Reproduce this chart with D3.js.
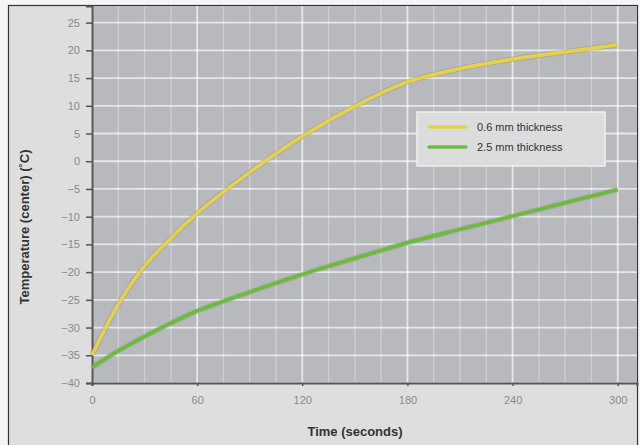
<!DOCTYPE html>
<html>
<head>
<meta charset="utf-8">
<script src="https://cdn.jsdelivr.net/npm/d3@7"></script>
<style>
  body { margin: 0; background: #f5f5f5; }
  svg { display: block; }
</style>
</head>
<body>
<div id="chart"></div>
<script>
// seconds
const times = [0, 15, 30, 45, 60, 90, 120, 150, 180, 210, 240, 270, 300];
// center temperature, 0.6 mm and 2.5 mm sheets
const thin = [-35, -25.8, -18.9, -13.9, -9.4, -2.0, 4.5, 9.9, 14.3, 16.7, 18.4, 19.7, 21.0];
const thick = [-37.2, -34.2, -31.6, -29.2, -27.0, -23.6, -20.4, -17.5, -14.7, -12.3, -9.9, -7.5, -5.1];
const series = [
    {name: "0.6 mm thickness", values: thin, color: "#e6d24a"},
    {name: "2.5 mm thickness", values: thick, color: "#6abd3c"}
];
const xTicks = [0, 60, 120, 180, 240, 300];
const yTicks = [-40, -35, -30, -25, -20, -15, -10, -5, 0, 5, 10, 15, 20, 25];

const width = 640, height = 445;
const margin = {top: 6, right: 3, bottom: 62, left: 92};

const svg = d3.select("#chart").append("svg")
    .attr("width", width)
    .attr("height", height);

// outer panel
svg.append("rect")
    .attr("x", 8.5).attr("y", 5.5)
    .attr("width", 629).attr("height", 450)
    .attr("fill", "#dedede")
    .attr("stroke", "#333").attr("stroke-width", 1.2);

const x = d3.scaleLinear().domain([0, 311]).range([margin.left, width - margin.right]);
const y = d3.scaleLinear().domain([-40, 28]).range([height - margin.bottom, margin.top]);

// plot background
svg.append("rect")
    .attr("x", x(0)).attr("y", y(28))
    .attr("width", x(311) - x(0)).attr("height", y(-40) - y(28))
    .attr("fill", "#b8b9bd");

// minor vertical grid
const minor = d3.range(15, 311, 15).filter(d => d % 60 !== 0);
svg.append("g")
    .selectAll("line")
    .data(minor)
    .join("line")
    .attr("x1", d => x(d)).attr("x2", d => x(d))
    .attr("y1", y(28)).attr("y2", y(-40))
    .attr("stroke", "#fff").attr("stroke-opacity", 0.3).attr("stroke-width", 1.5);

// major grid
svg.append("g")
    .selectAll("line")
    .data(xTicks)
    .join("line")
    .attr("x1", d => x(d)).attr("x2", d => x(d))
    .attr("y1", y(28)).attr("y2", y(-40))
    .attr("stroke", "#fff").attr("stroke-opacity", 0.65).attr("stroke-width", 1.8);

svg.append("g")
    .selectAll("line")
    .data(yTicks)
    .join("line")
    .attr("x1", x(0)).attr("x2", x(311))
    .attr("y1", d => y(d)).attr("y2", d => y(d))
    .attr("stroke", "#fff").attr("stroke-opacity", 0.65).attr("stroke-width", 1.8);

// axes
const yAxis = svg.append("g")
    .attr("transform", `translate(${x(0)},0)`)
    .call(d3.axisLeft(y).tickValues(yTicks).tickSize(6).tickPadding(6));
const xAxis = svg.append("g")
    .attr("transform", `translate(0,${y(-40)})`)
    .call(d3.axisBottom(x).tickValues(xTicks).tickSize(3).tickPadding(10));

[yAxis, xAxis].forEach(g => {
    g.select(".domain").attr("stroke", "#555").attr("stroke-width", 2);
    g.selectAll(".tick line").attr("stroke", "#555").attr("stroke-width", 1.5);
    g.selectAll(".tick text")
        .attr("fill", "#8a8a8a")
        .attr("font-family", "Liberation Sans, Arial, sans-serif")
        .attr("font-size", 11);
});

// lines
const line = d3.line()
    .x((d, i) => x(times[i]))
    .y(d => y(d))
    .curve(d3.curveCatmullRom.alpha(0.5));

series.forEach(s => {
    svg.append("path")
        .attr("d", line(s.values))
        .attr("fill", "none")
        .attr("stroke", "#8d8d70").attr("stroke-opacity", 0.35)
        .attr("stroke-width", 5.5);
    svg.append("path")
        .attr("d", line(s.values))
        .attr("fill", "none")
        .attr("stroke", s.color)
        .attr("stroke-width", 3.5);
});

// legend
const lg = svg.append("g").attr("transform", "translate(417,112)");
lg.append("rect")
    .attr("width", 188).attr("height", 54)
    .attr("fill", "#dcdcdc")
    .attr("stroke", "#efefef").attr("stroke-width", 1.5);
series.forEach((s, i) => {
    const row = lg.append("g").attr("transform", `translate(0,${15 + i * 20})`);
    row.append("line")
        .attr("x1", 12).attr("x2", 49)
        .attr("stroke", s.color).attr("stroke-width", 3.5)
        .attr("stroke-linecap", "round");
    row.append("text")
        .attr("x", 60).attr("dy", "0.35em")
        .attr("font-family", "Liberation Sans, Arial, sans-serif")
        .attr("font-size", 11)
        .attr("fill", "#333")
        .text(s.name);
});

// titles
svg.append("text")
    .attr("x", 355).attr("y", 436)
    .attr("text-anchor", "middle")
    .attr("font-family", "Liberation Sans, Arial, sans-serif")
    .attr("font-weight", "bold")
    .attr("font-size", 13)
    .attr("fill", "#333")
    .text("Time (seconds)");

svg.append("text")
    .attr("transform", "translate(29,227) rotate(-90)")
    .attr("text-anchor", "middle")
    .attr("font-family", "Liberation Sans, Arial, sans-serif")
    .attr("font-weight", "bold")
    .attr("font-size", 13)
    .attr("fill", "#333")
    .text("Temperature (center) (˚C)");
</script>
</body>
</html>
